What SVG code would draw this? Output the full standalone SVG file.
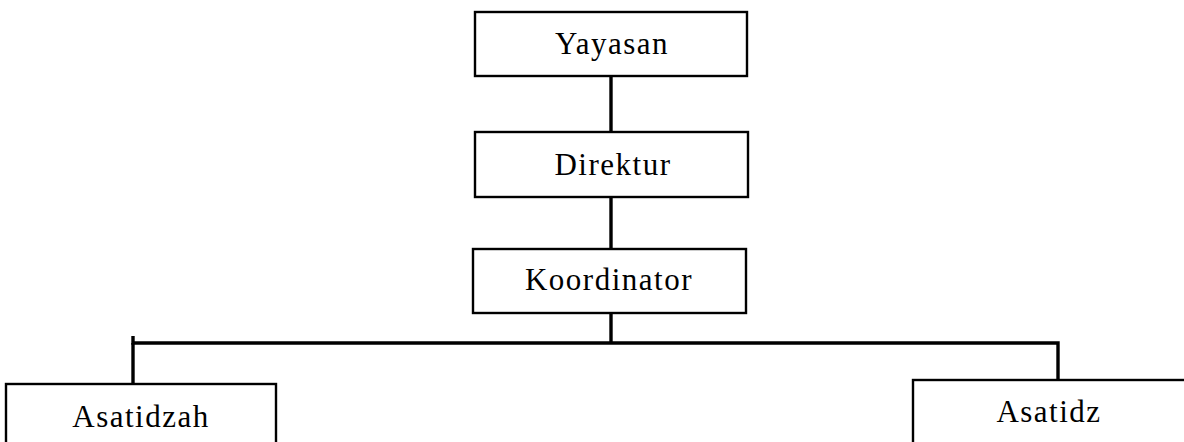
<svg xmlns="http://www.w3.org/2000/svg" width="1184" height="442" viewBox="0 0 1184 442">
  <style>
    .box { fill: #ffffff; stroke: #000000; stroke-width: 2.4; }
    .label { font-family: "Liberation Serif", "DejaVu Serif", serif; font-size: 31px; letter-spacing: 1.5px; fill: #000000; text-anchor: middle; }
    .link { stroke: #000000; stroke-width: 3.4; fill: none; }
  </style>
  <rect width="1184" height="442" fill="#ffffff"/>

  <!-- connectors -->
  <g id="connectors">
    <line class="link" x1="611" y1="76" x2="611" y2="133"/>
    <line class="link" x1="611" y1="191" x2="611" y2="253"/>
    <line class="link" x1="611" y1="306" x2="611" y2="342"/>
    <polyline class="link" points="133,336 133,343 1058,343 1058,380"/>
    <line class="link" x1="133" y1="343" x2="133" y2="386"/>
  </g>

  <g id="yayasan">
    <rect class="box" x="475" y="12" width="272" height="64"/>
    <text class="label" x="612" y="54">Yayasan</text>
  </g>

  <g id="direktur">
    <rect class="box" x="475" y="132" width="273" height="65"/>
    <text class="label" x="613" y="175">Direktur</text>
  </g>

  <g id="koordinator">
    <rect class="box" x="473" y="249" width="273" height="64"/>
    <text class="label" x="609" y="290">Koordinator</text>
  </g>

  <g id="asatidzah">
    <rect class="box" x="6" y="384" width="270" height="80"/>
    <text class="label" x="141" y="427">Asatidzah</text>
  </g>

  <g id="asatidz">
    <rect class="box" x="913" y="380" width="285" height="80"/>
    <text class="label" x="1049" y="422">Asatidz</text>
  </g>
</svg>
